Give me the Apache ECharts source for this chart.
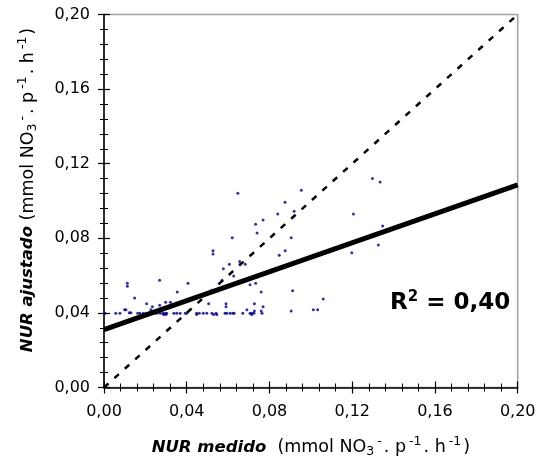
<!DOCTYPE html>
<html>
<head>
<meta charset="utf-8">
<script src="https://cdn.jsdelivr.net/npm/echarts@6/dist/echarts.min.js"></script>
<style>
html,body{margin:0;padding:0;background:#fff;}
#chart{width:541px;height:468px;}
</style>
</head>
<body>
<div id="chart"></div>
<script>
// Measured NUR (x) and fitted NUR (y)
const measured = [
  0.0647,0.0954,0.0875,0.0840,0.0919,0.0733,0.0769,0.0740,0.0620,0.0905,
  0.0527,0.0527,0.0876,0.0847,0.0606,0.0656,0.0659,0.0683,0.0577,0.0627,
  0.0571,0.0706,0.0733,0.0760,0.0912,0.0269,0.0406,0.0113,0.0113,0.0354,
  0.0148,0.0206,0.0234,0.0298,0.0321,0.0269,0.0506,0.0590,0.0590,0.0727,
  0.0769,0.0100,0.0106,0.0227,0.0122,0.0130,0.0691,0.0727,0.1012,0.1033,
  0.0905,0.0760,0.1198,0.1326,0.1060,0.1298,0.1335,0.1206,0.1347,
  0.0005,0.0057,0.0077,0.0163,0.0174,0.0190,0.0206,0.0243,0.0255,0.0271,
  0.0284,0.0295,0.0303,0.0338,0.0352,0.0368,0.0393,0.0400,0.0448,0.0461,
  0.0480,0.0497,0.0522,0.0542,0.0585,0.0593,0.0609,0.0622,0.0629,0.0671,
  0.0706,0.0714,0.0725,0.0764,
  0.0288,0.0300,0.0448,0.0530,0.0545,0.0714
];
const fitted = [
  0.1041,0.1057,0.0993,0.0930,0.0945,0.0875,0.0898,0.0828,0.0803,0.0803,
  0.0733,0.0716,0.0733,0.0709,0.0661,0.0675,0.0661,0.0661,0.0637,0.0598,
  0.0575,0.0551,0.0559,0.0512,0.0519,0.0575,0.0559,0.0559,0.0543,0.0512,
  0.0480,0.0449,0.0433,0.0457,0.0457,0.0441,0.0449,0.0449,0.0433,0.0449,
  0.0433,0.0417,0.0417,0.0417,0.0401,0.0401,0.0417,0.0410,0.0417,0.0417,
  0.0410,0.0410,0.0723,0.0764,0.0475,0.1120,0.1102,0.0930,0.0866,
  0.0398,0.0398,0.0398,0.0398,0.0398,0.0398,0.0398,0.0398,0.0398,0.0398,
  0.0398,0.0398,0.0398,0.0398,0.0398,0.0398,0.0398,0.0398,0.0398,0.0398,
  0.0398,0.0398,0.0398,0.0398,0.0398,0.0398,0.0398,0.0398,0.0398,0.0398,
  0.0398,0.0398,0.0398,0.0398,
  0.0392,0.0392,0.0392,0.0392,0.0392,0.0392
];
// Regression line and 1:1 line
const fitLineX = [0, 0.20];
const fitLineY = [0.031, 0.1086];
const oneToOneX = [0, 0.20];
const oneToOneY = [0, 0.20];
// Tick labels
const tickValues = [0, 0.04, 0.08, 0.12, 0.16, 0.20];
const tickLabels = ['0,00', '0,04', '0,08', '0,12', '0,16', '0,20'];
const r2Text = '0,40';

function fmt(v) {
  for (let i = 0; i < tickValues.length; i++) {
    if (Math.abs(v - tickValues[i]) < 1e-6) return tickLabels[i];
  }
  return '';
}

const FONT = 'DejaVu Sans';
const scatterData = measured.map((x, i) => [x, fitted[i]]);
const fitData = fitLineX.map((x, i) => [x, fitLineY[i]]);
const idData = oneToOneX.map((x, i) => [x, oneToOneY[i]]);

const unitRich = {
  b: { fontFamily: FONT, fontSize: 16.5, fontWeight: 'bold', fontStyle: 'italic', color: '#000' },
  n: { fontFamily: FONT, fontSize: 17.5, color: '#000' },
  sup: { fontFamily: FONT, fontSize: 12.5, color: '#000', padding: [0, 2, 11, 3] },
  sub: { fontFamily: FONT, fontSize: 12.5, color: '#000', padding: [9, 0, 0, 0] }
};
const unitText = '{n|(mmol NO}{sub|3}{sup|-}{n|. p}{sup|-1}{n|. h}{sup|-1}{n|)}';

const baseAxis = {
  type: 'value', min: 0, max: 0.20, interval: 0.04,
  splitLine: { show: false }
};

const chart = echarts.init(document.getElementById('chart'), null, { renderer: 'canvas' });
chart.setOption({
  animation: false,
  backgroundColor: '#ffffff',
  grid: { left: 104, right: 23.3, top: 14.5, bottom: 80.5, show: true, borderColor: '#a0a0a0', borderWidth: 1.5 },
  xAxis: [
    Object.assign({}, baseAxis, {
      position: 'bottom',
      axisLine: { onZero: false, lineStyle: { color: '#000', width: 1.5 } },
      axisTick: { inside: false, length: 6, lineStyle: { color: '#000', width: 1.2 } },
      minorTick: { show: true, splitNumber: 5, length: 4, lineStyle: { color: '#000', width: 1 } },
      axisLabel: { formatter: fmt, fontFamily: FONT, fontSize: 16, color: '#000', margin: 16 },
      name: '{b|NUR medido}{n|  }' + unitText,
      nameLocation: 'middle', nameGap: 48,
      nameTextStyle: { fontFamily: FONT, color: '#000', rich: unitRich }
    }),
    Object.assign({}, baseAxis, {
      position: 'bottom',
      axisLine: { show: false, onZero: false },
      axisTick: { inside: true, length: 6, lineStyle: { color: '#000', width: 1.2 } },
      minorTick: { show: true, splitNumber: 5, length: 4, lineStyle: { color: '#000', width: 1 } },
      axisLabel: { show: false }
    })
  ],
  yAxis: [
    Object.assign({}, baseAxis, {
      position: 'left',
      axisLine: { onZero: false, lineStyle: { color: '#000', width: 1.5 } },
      axisTick: { inside: false, length: 6, lineStyle: { color: '#000', width: 1.2 } },
      minorTick: { show: true, splitNumber: 5, length: 4, lineStyle: { color: '#000', width: 1 } },
      axisLabel: { formatter: fmt, fontFamily: FONT, fontSize: 16, color: '#000', margin: 14 },
      name: '{b|NUR ajustado}{n| }' + unitText,
      nameLocation: 'middle', nameGap: 64, nameRotate: 90,
      nameTextStyle: { fontFamily: FONT, color: '#000', rich: unitRich, padding: [0, 0, 0, 22] }
    }),
    Object.assign({}, baseAxis, {
      position: 'left',
      axisLine: { show: false, onZero: false },
      axisTick: { inside: true, length: 6, lineStyle: { color: '#000', width: 1.2 } },
      minorTick: { show: true, splitNumber: 5, length: 4, lineStyle: { color: '#000', width: 1 } },
      axisLabel: { show: false }
    })
  ],
  series: [
    {
      type: 'scatter', data: scatterData, symbol: 'circle', symbolSize: 3,
      itemStyle: { color: '#000080' }, silent: true
    },
    {
      type: 'line', data: idData, showSymbol: false, symbol: 'none',
      lineStyle: { color: '#000', width: 2.5, type: [6, 8] }, silent: true
    },
    {
      type: 'line', data: fitData, showSymbol: false, symbol: 'none',
      lineStyle: { color: '#000', width: 5 }, silent: true
    }
  ],
  graphic: [
    {
      type: 'text', left: 390, top: 290,
      style: {
        text: '{a|R}{s|2}{a| = ' + r2Text + '}',
        rich: {
          a: { fontFamily: FONT, fontSize: 23, fontWeight: 'bold', fill: '#000', color: '#000' },
          s: { fontFamily: FONT, fontSize: 15, fontWeight: 'bold', fill: '#000', color: '#000', padding: [0, 0, 12, 0] }
        }
      }
    }
  ]
});
</script>
</body>
</html>
